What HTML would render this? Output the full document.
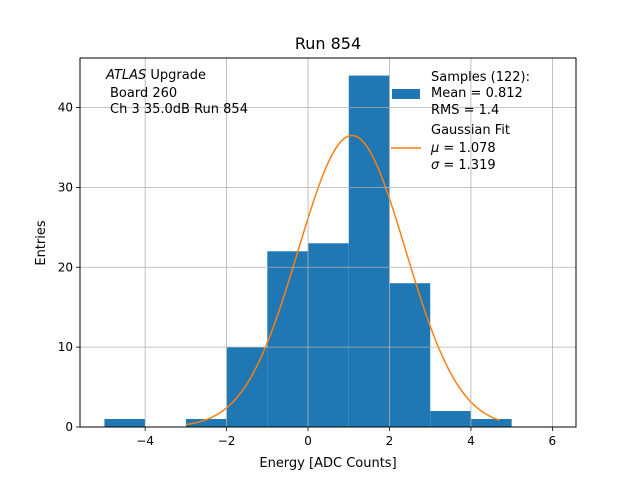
<!DOCTYPE html>
<html><head><meta charset="utf-8"><style>
body{margin:0;background:#fff}
svg text{font-family:"DejaVu Sans","Liberation Sans",sans-serif;fill:#000}
</style></head><body>
<svg width="640" height="480">
<rect x="0" y="0" width="640" height="480" fill="#fff"/>
<g id="bars"></g>
<path id="fit" fill="none" stroke="#ff7f0e" stroke-width="1.5"/>
<g id="grid"></g>
<rect x="80" y="58" width="496" height="369" fill="none" stroke="#000" stroke-width="1"/>
<g id="ticks"></g>
<text x="328" y="49" font-size="16" text-anchor="middle">Run 854</text>
<text x="328" y="467" font-size="13" text-anchor="middle">Energy [ADC Counts]</text>
<text transform="translate(45,243) rotate(-90)" font-size="13" text-anchor="middle">Entries</text>
<g font-size="13">
<text x="106" y="79"><tspan font-style="italic">ATLAS</tspan> Upgrade</text>
<text x="110" y="97">Board 260</text>
<text x="110" y="113">Ch 3 35.0dB  Run 854</text>
</g>
<g font-size="13">
<rect x="392" y="89" width="28" height="10" fill="#1f77b4"/>
<text x="431" y="81">Samples (122):</text>
<text x="431" y="97">Mean = 0.812</text>
<text x="431" y="114">RMS = 1.4</text>
<line x1="391" y1="148" x2="421" y2="148" stroke="#ff7f0e" stroke-width="1.5"/>
<text x="431" y="134">Gaussian Fit</text>
<text x="431" y="152"><tspan font-style="italic">μ</tspan> = 1.078</text>
<text x="431" y="169"><tspan font-style="italic">σ</tspan> = 1.319</text>
</g>
</svg>
<script>
const binEdges=[-5,-4,-3,-2,-1,0,1,2,3,4];
const counts=[1,0,1,10,22,23,44,18,2,1];
const fitMu=1.078, fitSigma=1.319, fitAmp=36.5;
const xTicks=[-4,-2,0,2,4,6];
const yTicks=[0,10,20,30,40];
const X0=80,X1=576,Y0=427,Y1=58,xmin=-5.6,xmax=6.58,ymin=0,ymax=46.2;
const sx=v=>X0+(v-xmin)/(xmax-xmin)*(X1-X0);
const sy=v=>Y0-(v-ymin)/(ymax-ymin)*(Y0-Y1);
const NS='http://www.w3.org/2000/svg';
const bars=document.getElementById('bars');
binEdges.forEach((e,i)=>{if(!counts[i])return;
 const r=document.createElementNS(NS,'rect');
 r.setAttribute('x',sx(e));r.setAttribute('width',sx(e+1)-sx(e));
 r.setAttribute('y',sy(counts[i]));r.setAttribute('height',sy(0)-sy(counts[i]));
 r.setAttribute('fill','#1f77b4');
 
 
 bars.appendChild(r);});
let d='';
for(let i=0;i<=200;i++){const x=-3.0+i*(7.7/200);
 const y=fitAmp*Math.exp(-0.5*((x-fitMu)/fitSigma)**2);
 d+=(i?'L':'M')+sx(x).toFixed(2)+','+sy(y).toFixed(2);}
document.getElementById('fit').setAttribute('d',d);
const grid=document.getElementById('grid'),ticks=document.getElementById('ticks');
function ln(g,x1,y1,x2,y2,c,n){const l=document.createElementNS(NS,'line');
 l.setAttribute('x1',x1);l.setAttribute('y1',y1);l.setAttribute('x2',x2);l.setAttribute('y2',y2);
 l.setAttribute('stroke',c);l.setAttribute('stroke-width','0.8');
 
 
 g.appendChild(l);}
function tx(x,y,s,a,n){const t=document.createElementNS(NS,'text');
 t.setAttribute('x',x);t.setAttribute('y',y);t.setAttribute('font-size','12');t.setAttribute('text-anchor',a);t.textContent=s;
 
 
 ticks.appendChild(t);}
xTicks.forEach(v=>{const x=sx(v);ln(grid,x,Y1,x,Y0,'#b0b0b0','x-grid-line');ln(ticks,x,Y0,x,Y0+4,'#000','x-tick');
 tx(x,Y0+18,String(v).replace('-','−'),'middle','x-tick-label');});
yTicks.forEach(v=>{const y=sy(v);ln(grid,X0,y,X1,y,'#b0b0b0','y-grid-line');ln(ticks,X0-4,y,X0,y,'#000','y-tick');
 tx(X0-7,y+4,String(v),'end','y-tick-label');});
</script>
</body></html>
